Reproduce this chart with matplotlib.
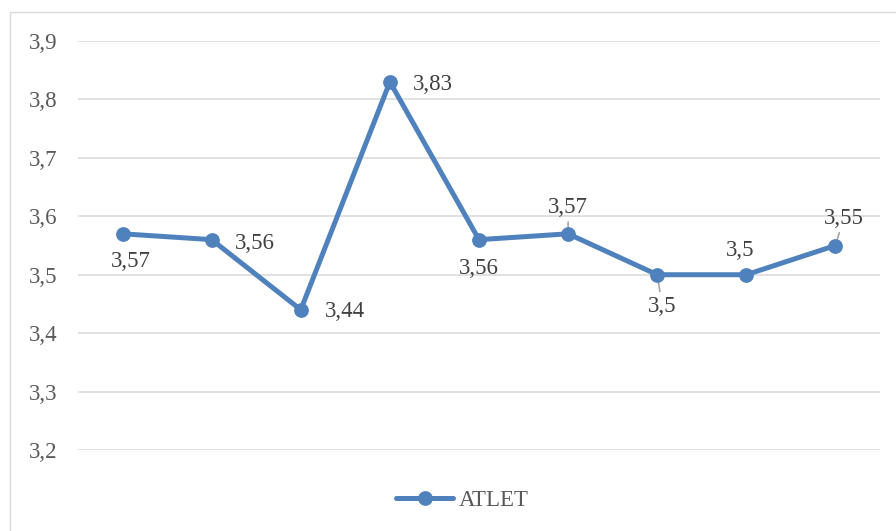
import matplotlib
matplotlib.use("Agg")
import matplotlib.pyplot as plt
from matplotlib.patches import Rectangle

categories = list(range(9))
values = [3.57, 3.56, 3.44, 3.83, 3.56, 3.57, 3.50, 3.50, 3.55]
labels = ["3,57", "3,56", "3,44", "3,83", "3,56", "3,57", "3,5", "3,5", "3,55"]
series_name = "ATLET"
yticks = [3.2, 3.3, 3.4, 3.5, 3.6, 3.7, 3.8, 3.9]
ytick_labels = ["3,2", "3,3", "3,4", "3,5", "3,6", "3,7", "3,8", "3,9"]

# label offsets (points) and whether a leader line is drawn
offsets = [(6, -24), (31, -7), (32, -5), (31, -6), (0, -24.5),
           (0, 15), (3.6, -26.6), (-4.3, 13.7), (6, 15.8)]
leaders = [False, False, False, False, False, True, True, False, True]

plt.rcParams['font.family'] = 'serif'
plt.rcParams['font.serif'] = ['Liberation Serif', 'DejaVu Serif']
FONT = 'Liberation Serif'

W, H = 896, 531
fig = plt.figure(figsize=(W / 100, H / 100), dpi=100)
fig.patch.set_facecolor('white')

# chart frame
fig.patches.append(Rectangle((10 / W, -0.02), 1.05, 1 - 12 / H + 0.02,
                             transform=fig.transFigure, fill=False,
                             edgecolor='#D9D9D9', linewidth=1.0, zorder=0))

ax = fig.add_axes([78 / W, 1 - 450 / H, 802 / W, 409 / H])
ax.set_facecolor('none')
color = '#4F81BD'
ax.plot(categories, values, color=color, linewidth=3.6, marker='o',
        markersize=9.6, label=series_name, zorder=3, clip_on=False,
        solid_capstyle='round')

ax.set_xlim(-0.5, 8.5)
ax.set_ylim(3.2, 3.9)
ax.set_yticks(yticks)
ax.set_yticklabels(ytick_labels, family=FONT)
ax.set_xticks([])
ax.tick_params(axis='y', length=0, pad=15, labelsize=16.5, labelcolor='#595959')
ax.grid(axis='y', color='#D9D9D9', linewidth=1.1)
ax.set_axisbelow(True)
for s in ax.spines.values():
    s.set_visible(False)

for x, y, lab, (dx, dy), ld in zip(categories, values, labels, offsets, leaders):
    kw = {}
    if ld:
        kw['arrowprops'] = dict(arrowstyle='-', color='#A6A6A6', lw=1.2,
                                shrinkA=1, shrinkB=0)
    ax.annotate(lab, (x, y), xytext=(dx, dy), textcoords='offset points',
                ha='center', va='baseline', fontsize=16.5, color='#404040',
                family=FONT, zorder=2, annotation_clip=False, **kw)

leg = fig.legend(loc='center', bbox_to_anchor=(0.516, 1 - 500 / H),
                 frameon=False, handlelength=2.49, handletextpad=0.22,
                 prop={'family': FONT, 'size': 16.5}, labelcolor='#595959')

fig.savefig('out.png', dpi=100, facecolor='white')
